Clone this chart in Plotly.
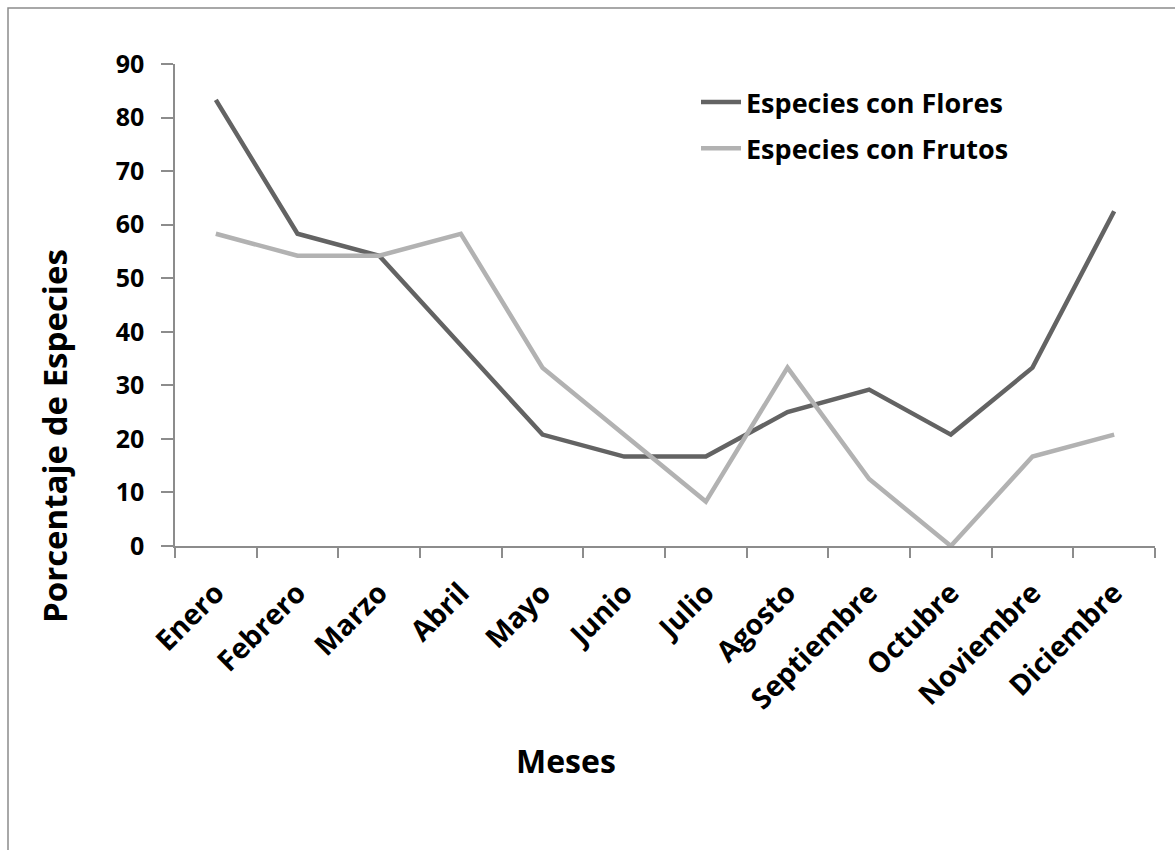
import plotly.graph_objects as go

meses = ["Enero", "Febrero", "Marzo", "Abril", "Mayo", "Junio", "Julio",
         "Agosto", "Septiembre", "Octubre", "Noviembre", "Diciembre"]
flores = [83.3, 58.3, 54.2, 37.5, 20.8, 16.7, 16.7, 25.0, 29.2, 20.8, 33.3, 62.5]
frutos = [58.3, 54.2, 54.2, 58.3, 33.3, 20.8, 8.3, 33.3, 12.5, 0.0, 16.7, 20.8]
y_ticks = [0, 10, 20, 30, 40, 50, 60, 70, 80, 90]

FONT = "'Open Sans', sans-serif"
AXIS_GRAY = "#8c8c8c"

fig = go.Figure()
fig.add_trace(go.Scatter(x=meses, y=flores, mode="lines", name="Especies con Flores",
                         legendgroup="flores",
                         line=dict(color="#636363", width=4.5)))
fig.add_trace(go.Scatter(x=meses, y=frutos, mode="lines", name="Especies con Frutos",
                         legendgroup="frutos",
                         line=dict(color="#b2b2b2", width=4.5)))

L, R, T, B = 175, 20, 64, 304
W, H = 1175, 850
pw, ph = W - L - R, H - T - B

fig.update_layout(
    width=W, height=H,
    margin=dict(l=L, r=R, t=T, b=B),
    paper_bgcolor="white", plot_bgcolor="white",
    font=dict(family=FONT, color="black"),
    showlegend=True,
    legend=dict(x=(696 - L) / pw, y=(546 - 78) / ph, xanchor="left", yanchor="top",
                font=dict(size=27, family=FONT, color="black", weight="bold"),
                bgcolor="rgba(0,0,0,0)", tracegroupgap=8, itemwidth=40),
    xaxis=dict(
        type="category", tickson="boundaries", ticks="outside", ticklen=10,
        tickcolor=AXIS_GRAY, tickwidth=1.5, showline=True, linecolor=AXIS_GRAY,
        linewidth=1.5, showgrid=False, tickangle=-45, ticklabelstandoff=17,
        tickfont=dict(size=28.5, family=FONT, color="black", weight="bold"),
        range=[-0.5, 11.5],
    ),
    yaxis=dict(
        range=[0, 90], tickvals=y_ticks, ticks="outside", ticklen=12,
        tickcolor=AXIS_GRAY, tickwidth=1.5, showline=True, linecolor=AXIS_GRAY,
        linewidth=1.5, showgrid=False, zeroline=False, ticklabelstandoff=12,
        tickfont=dict(size=25, family=FONT, color="black", weight="bold"),
    ),
    annotations=[
        dict(text="Porcentaje de Especies", xref="paper", yref="paper",
             x=(54 - L) / pw, y=(546 - 436) / ph, textangle=-90,
             showarrow=False, font=dict(size=33, family=FONT, color="black", weight="bold"),
             xanchor="center", yanchor="middle"),
        dict(text="Meses", xref="paper", yref="paper",
             x=(566 - L) / pw, y=(546 - 760) / ph, showarrow=False,
             font=dict(size=32, family=FONT, color="black", weight="bold"),
             xanchor="center", yanchor="middle"),
    ],
    shapes=[
        dict(type="rect", xref="paper", yref="paper",
             x0=(8 - L) / pw, x1=(W + 10 - L) / pw,
             y0=(546 - (H + 10)) / ph, y1=(546 - 8) / ph,
             line=dict(color=AXIS_GRAY, width=1.5), fillcolor="rgba(0,0,0,0)",
             layer="below"),
    ],
)

fig.write_html("out.html")
